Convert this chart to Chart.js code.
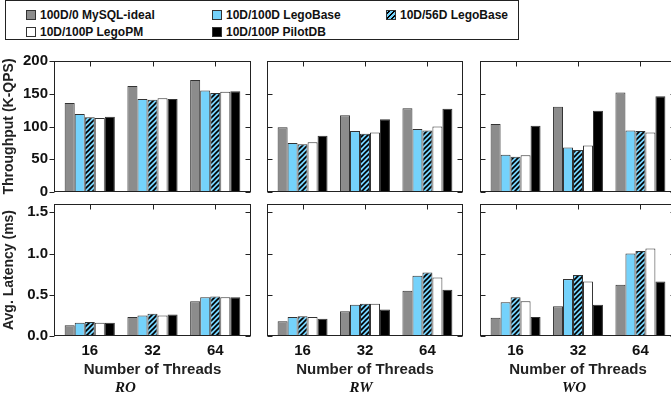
<!DOCTYPE html>
<html>
<head>
<meta charset="utf-8">
<script src="https://cdn.jsdelivr.net/npm/chart.js@4.4.1/dist/chart.umd.min.js"></script>
<style>
body { margin: 0; width: 671px; height: 400px; overflow: hidden; position: relative; background: #fff; font-family: "Liberation Sans", Arial, sans-serif; }
.pane { position: absolute; }
#legend { position: absolute; left: 5px; top: 0; width: 514px; height: 40px; border: 1.5px solid #222; box-sizing: border-box; }
.sw { position: absolute; width: 10px; height: 10px; border: 1px solid #333; box-sizing: border-box; }
.lt { position: absolute; font-size: 12px; font-weight: bold; color: #111; line-height: 14px; white-space: nowrap; }
</style>
</head>
<body>
<div id="legend"></div>
<script>
// data
const threads = ['16', '32', '64'];
const workloads = ['RO', 'RW', 'WO'];
const series = ['100D/0 MySQL-ideal', '10D/100D LegoBase', '10D/56D LegoBase', '10D/100P LegoPM', '10D/100P PilotDB'];

// throughput (K-QPS), one row per series, one value per thread count
const tputRO = [[136, 162, 171], [119, 142, 155], [114, 141, 151], [113, 143, 153], [115, 142, 154]];
const tputRW = [[99, 117, 128], [75, 93, 96], [73, 89, 94], [76, 91, 100], [86, 111, 127]];
const tputWO = [[104, 130, 152], [57, 68, 94], [54, 64, 93], [56, 71, 91], [101, 124, 146]];

// avg latency (ms)
const latRO = [[0.13, 0.23, 0.42], [0.16, 0.25, 0.47], [0.17, 0.27, 0.48], [0.16, 0.25, 0.47], [0.16, 0.26, 0.47]];
const latRW = [[0.18, 0.30, 0.55], [0.23, 0.38, 0.73], [0.24, 0.39, 0.77], [0.23, 0.39, 0.71], [0.21, 0.32, 0.56]];
const latWO = [[0.22, 0.36, 0.62], [0.41, 0.69, 1.00], [0.47, 0.74, 1.03], [0.42, 0.66, 1.06], [0.23, 0.38, 0.66]];

const tputTicks = [0, 50, 100, 150, 200];
const latTicks = [0, 0.5, 1.0, 1.5];
const latTickLabels = ['0.0', '0.5', '1.0', '1.5'];

const FONT = '"Liberation Sans", Arial, sans-serif';
Chart.defaults.font.family = FONT;
Chart.defaults.color = '#111';

// hatched fill for the 56D series
function hatch() {
    const c = document.createElement('canvas');
    c.width = 5; c.height = 5;
    const g = c.getContext('2d');
    g.fillStyle = '#74d2fb';
    g.fillRect(0, 0, 5, 5);
    g.strokeStyle = '#000';
    g.lineWidth = 1.6;
    g.beginPath();
    g.moveTo(-1, 6); g.lineTo(6, -1);
    g.moveTo(-1, 1); g.lineTo(1, -1);
    g.moveTo(4, 6); g.lineTo(6, 4);
    g.stroke();
    return g.createPattern(c, 'repeat');
}
const fills = ['#8c8c8c', '#74d2fb', hatch(), '#ffffff', '#000000'];
const swatchCss = ['#8c8c8c', '#74d2fb',
    'repeating-linear-gradient(-45deg, #74d2fb 0 2px, #000 2px 3.5px)', '#ffffff', '#000000'];

// legend
const legend = [[26, 15], [212, 15], [386, 15], [26, 32], [212, 32]];
series.forEach((s, i) => {
    const sw = document.createElement('div');
    sw.className = 'sw';
    sw.style.left = legend[i][0] + 'px';
    sw.style.top = (legend[i][1] - 5) + 'px';
    sw.style.background = swatchCss[i];
    document.body.appendChild(sw);
    const t = document.createElement('div');
    t.className = 'lt';
    t.style.left = (legend[i][0] + 14) + 'px';
    t.style.top = (legend[i][1] - 7) + 'px';
    t.textContent = s;
    document.body.appendChild(t);
});

// box with mirrored ticks
const frame = {
    id: 'frame',
    afterDatasetsDraw(chart, args, opts) {
        const { ctx, chartArea: a, scales: { x, y } } = chart;
        const L = Math.round(a.left) + 0.5, R = Math.round(a.right) - 0.5;
        const T = Math.round(a.top) + 0.5, B = Math.round(a.bottom) - 0.5;
        ctx.save();
        ctx.strokeStyle = '#222';
        ctx.lineWidth = 1;
        ctx.strokeRect(L, T, R - L, B - T);
        ctx.beginPath();
        y.ticks.forEach(t => {
            const py = Math.round(y.getPixelForValue(t.value)) + 0.5;
            if (opts.outLeft) { ctx.moveTo(L - 5, py); ctx.lineTo(L, py); }
            else { ctx.moveTo(L, py); ctx.lineTo(L + 5, py); }
            ctx.moveTo(R - 5, py); ctx.lineTo(R, py);
        });
        x.ticks.forEach(t => {
            const px = Math.round(x.getPixelForValue(t.value)) + 0.5;
            ctx.moveTo(px, T); ctx.lineTo(px, T + 5);
        });
        ctx.stroke();
        ctx.restore();
    }
};

const plotLeft = [54, 267, 480];
const plotW = [197, 196, 196];
const plotTop = [61, 204];
const plotBottom = [192, 336];
const PAD = 17;

function panel(col, row, rows) {
    const yw = col ? 8 : 54;
    const left = plotLeft[col] - yw;
    const top = plotTop[row] - PAD;
    const w = yw + plotW[col] + 6;
    const h = row ? 400 - top : plotBottom[row] + PAD - top;
    const div = document.createElement('div');
    div.className = 'pane';
    div.style.left = left + 'px';
    div.style.top = top + 'px';
    const cv = document.createElement('canvas');
    cv.width = w; cv.height = h;
    cv.style.width = w + 'px'; cv.style.height = h + 'px';
    div.appendChild(cv);
    document.body.appendChild(div);

    new Chart(cv, {
        type: 'bar',
        data: {
            datasets: rows.map((vals, i) => ({
                label: series[i],
                data: vals.map((v, k) => ({ x: k, y: v })),
                backgroundColor: fills[i],
                borderColor: '#333',
                borderWidth: 1,
                categoryPercentage: 0.8,
                barPercentage: 1
            }))
        },
        options: {
            responsive: false,
            animation: false,
            devicePixelRatio: 1,
            layout: { padding: { left: 0, right: 6, top: PAD, bottom: row ? 3 : PAD - 4 } },
            plugins: {
                legend: { display: false },
                tooltip: { enabled: false },
                frame: { outLeft: col === 0 },
                title: {
                    display: row === 1,
                    position: 'bottom',
                    text: workloads[col],
                    color: '#111',
                    padding: 0,
                    font: { family: '"Liberation Serif", "Times New Roman", serif', style: 'italic', weight: 'bold', size: 15 }
                }
            },
            scales: {
                x: {
                    type: 'linear',
                    min: -0.57,
                    max: 2.57,
                    offset: false,
                    grid: { display: false, drawTicks: false },
                    border: { display: false },
                    afterBuildTicks: s => { s.ticks = threads.map((t, i) => ({ value: i })); },
                    afterFit: s => { s.height = row ? 43 : 4; },
                    ticks: {
                        display: row === 1,
                        padding: 6,
                        maxRotation: 0,
                        autoSkip: false,
                        color: '#111',
                        font: { size: 15, weight: 'bold' },
                        callback: v => threads[v]
                    },
                    title: {
                        display: row === 1,
                        text: 'Number of Threads',
                        color: '#222',
                        padding: { top: 0, bottom: 0 },
                        font: { size: 15, weight: 'bold' }
                    }
                },
                y: {
                    min: 0,
                    max: row ? 1.6 : 200,
                    grid: { display: false, drawTicks: false },
                    border: { display: false },
                    afterBuildTicks: s => { s.ticks = (row ? latTicks : tputTicks).map(v => ({ value: v })); },
                    afterFit: s => { s.width = yw; },
                    ticks: {
                        display: col === 0,
                        padding: 6,
                        color: '#111',
                        font: { size: 15, weight: 'bold' },
                        callback: (v, i) => row ? latTickLabels[i] : v
                    },
                    title: {
                        display: col === 0,
                        text: row ? 'Avg. Latency (ms)' : 'Throughput (K-QPS)',
                        color: '#222',
                        padding: { top: 1, bottom: 0 },
                        font: { size: 14, weight: 'bold' }
                    }
                }
            }
        },
        plugins: [frame]
    });
}

panel(0, 0, tputRO);
panel(1, 0, tputRW);
panel(2, 0, tputWO);
panel(0, 1, latRO);
panel(1, 1, latRW);
panel(2, 1, latWO);
</script>
</body>
</html>
